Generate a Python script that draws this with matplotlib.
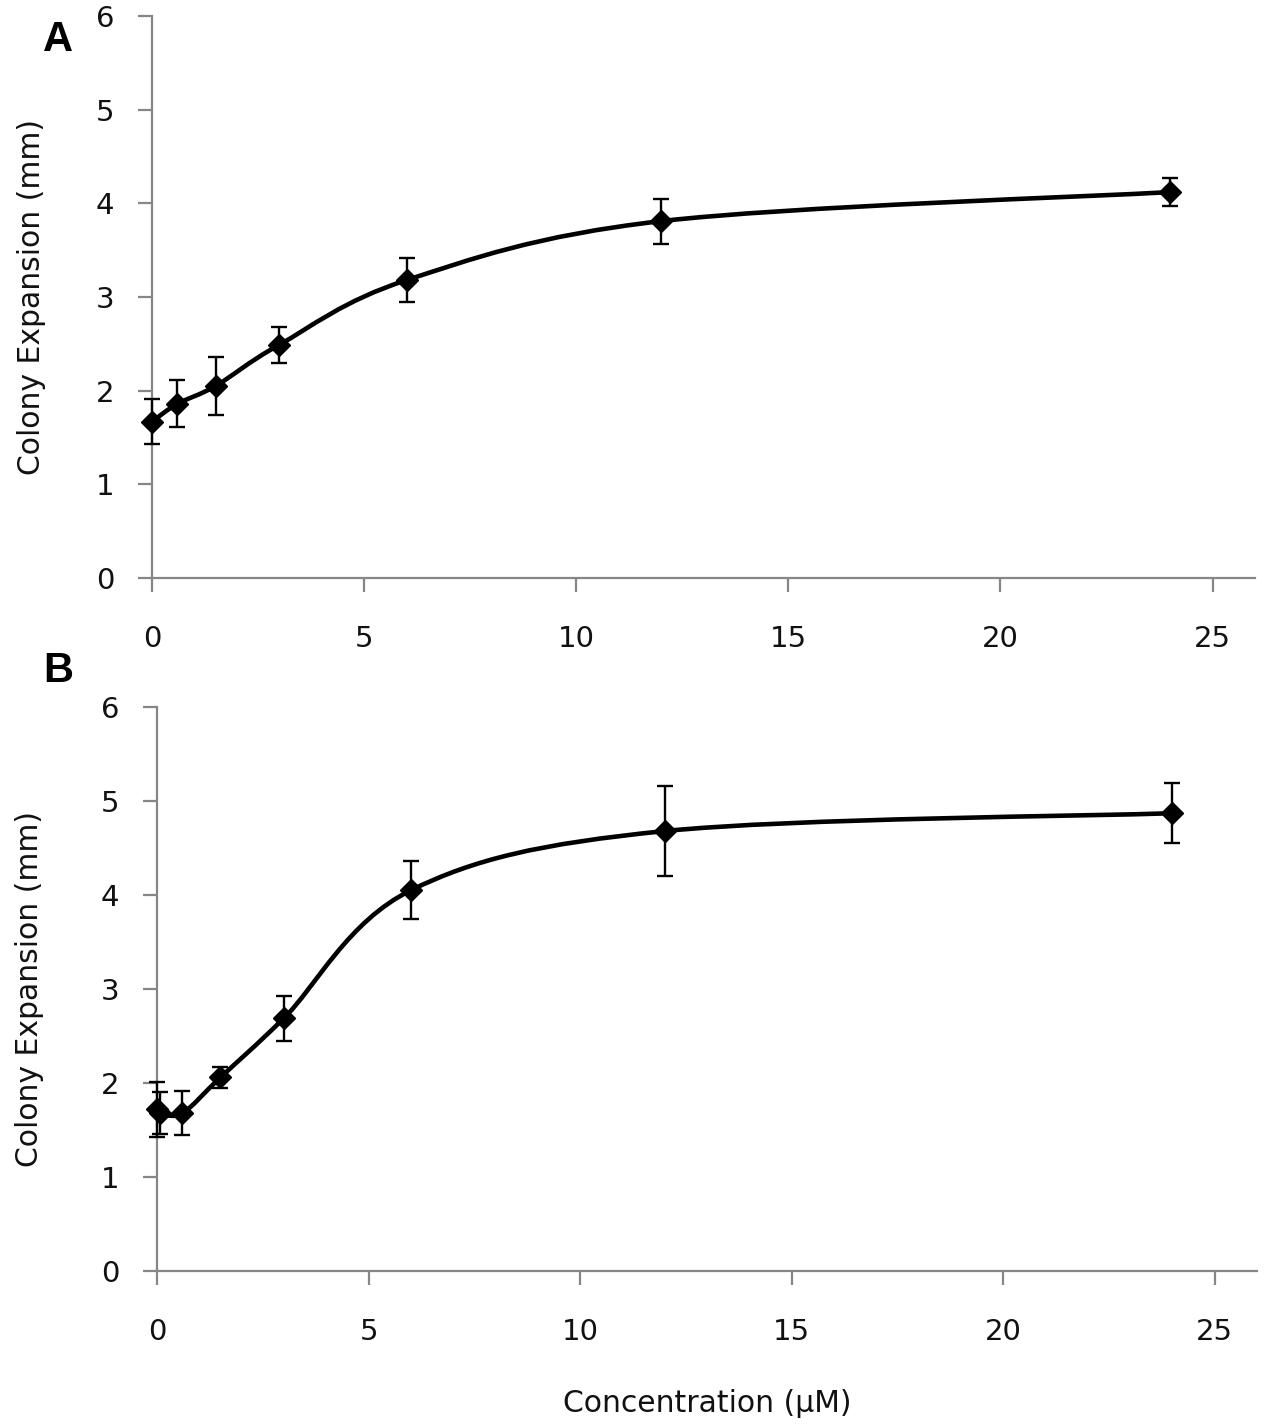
import numpy as np
import matplotlib
matplotlib.use("Agg")
import matplotlib.pyplot as plt
from matplotlib.path import Path
from matplotlib.patches import PathPatch

# ---- data ----
conc_a = [0, 0.6, 1.5, 3, 6, 12, 24]
expansion_a = [1.67, 1.86, 2.05, 2.49, 3.18, 3.81, 4.12]
err_a = [0.24, 0.25, 0.31, 0.19, 0.235, 0.24, 0.15]

conc_b = [0, 0.06, 0.6, 1.5, 3, 6, 12, 24]
expansion_b = [1.72, 1.68, 1.68, 2.06, 2.69, 4.05, 4.68, 4.87]
err_b = [0.29, 0.22, 0.235, 0.11, 0.24, 0.31, 0.48, 0.32]

x_ticks = [0, 5, 10, 15, 20, 25]
y_ticks = [0, 1, 2, 3, 4, 5, 6]
panel_labels = ["A", "B"]
ylabel = "Colony Expansion (mm)"
xlabel = "Concentration (\u00b5M)"

plt.rcParams['font.family'] = ['DejaVu Sans']

fig = plt.figure(figsize=(12.67, 14.26), dpi=100)
W, H = 1267, 1426
TXT = '#111111'


def px_axes(l, r, t, b):
    return fig.add_axes([l / W, (H - b) / H, (r - l) / W, (b - t) / H])


def smooth_line(ax, xs, ys):
    # Excel-like Bezier smoothing in display space
    pts = ax.transData.transform(np.column_stack([xs, ys]))
    n = len(pts)
    verts = [pts[0]]
    codes = [Path.MOVETO]
    for i in range(n - 1):
        p0 = pts[i - 1] if i > 0 else pts[i]
        p1 = pts[i]
        p2 = pts[i + 1]
        p3 = pts[i + 2] if i + 2 < n else pts[i + 1]
        c1 = p1 + (p2 - p0) / 6.0
        c2 = p2 - (p3 - p1) / 6.0
        verts += [c1, c2, p2]
        codes += [Path.CURVE4] * 3
    verts = ax.transData.inverted().transform(np.array(verts))
    patch = PathPatch(Path(verts, codes), facecolor='none', edgecolor='black',
                      lw=3.3, zorder=2, capstyle='round', joinstyle='round')
    ax.add_patch(patch)


def style(ax):
    ax.set_xlim(0, 26)
    ax.set_ylim(0, 6)
    ax.set_xticks(x_ticks)
    ax.set_yticks(y_ticks)
    for s in ['top', 'right']:
        ax.spines[s].set_visible(False)
    for s in ['left', 'bottom']:
        ax.spines[s].set_color('#868686')
        ax.spines[s].set_linewidth(1.6)
    ax.tick_params(axis='both', direction='out', length=10, width=1.6,
                   color='#868686', labelsize=21, labelcolor=TXT)
    ax.tick_params(axis='x', pad=24)
    ax.tick_params(axis='y', pad=17)


axes = [px_axes(152, 1255, 16, 578), px_axes(157, 1257, 707, 1271)]
datasets = [(conc_a, expansion_a, err_a), (conc_b, expansion_b, err_b)]
ylab_x = [32, 30]
lefts = [152, 157]

for ax, (xs, ys, es), lx, l in zip(axes, datasets, ylab_x, lefts):
    style(ax)
    fig.canvas.draw()
    smooth_line(ax, xs, ys)
    ax.errorbar(xs, ys, yerr=es, fmt='D', color='black', ms=11.5,
                mec='black', ecolor='black', elinewidth=1.7, capsize=6,
                capthick=1.7, zorder=3, clip_on=False)
    ax.set_ylabel(ylabel, fontsize=21.5, color=TXT, va='center')
    ax.yaxis.set_label_coords((lx - l) / 1100.0, 0.5)

axes[1].set_xlabel(xlabel, fontsize=21.5, color=TXT, va='center')
axes[1].xaxis.set_label_coords(0.5, -(1403 - 1271) / 564.0)

fig.text(58 / W, 1 - 40 / H, panel_labels[0], fontsize=30, fontweight='bold',
         family='Liberation Sans', ha='center', va='center')
fig.text(58 / W, 1 - 671 / H, panel_labels[1], fontsize=30, fontweight='bold',
         family='Liberation Sans', ha='center', va='center')

fig.savefig("out.png", dpi=100)
